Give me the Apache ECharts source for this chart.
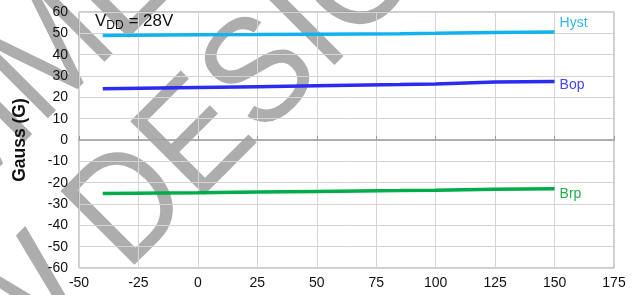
<!DOCTYPE html>
<html>
<head>
    <meta charset="utf-8">
    <title>Gauss vs temperature</title>
    <script src="https://cdn.jsdelivr.net/npm/echarts@6/dist/echarts.min.js"></script>
    <style type="text/css">
        html, body { margin: 0; padding: 0; background: #fff; }
        #main { width: 639px; height: 295px; }
    </style>
</head>
<body>
    <div id="main"></div>
    <script type="text/javascript">
        // temperature points (°C)
        var temps = [-40, 0, 25, 50, 85, 100, 125, 150];
        var hyst = [49.0, 49.3, 49.4, 49.6, 49.8, 50.0, 50.4, 50.6];
        var bop  = [24.0, 24.6, 25.0, 25.4, 26.0, 26.3, 27.2, 27.4];
        var brp  = [-25.1, -24.7, -24.4, -24.1, -23.7, -23.5, -23.1, -22.9];
        var xTicks = [-50, 175, 25];   // min, max, step
        var yTicks = [-60, 60, 10];

        function pairs(ys) {
            var out = [];
            for (var i = 0; i < temps.length; i++) out.push([temps[i], ys[i]]);
            return out;
        }

        function lineSeries(name, ys, color, labelColor, dy) {
            return {
                name: name,
                type: 'line',
                data: pairs(ys),
                symbol: 'none',
                z: 5,
                lineStyle: { color: color, width: 3.5 },
                endLabel: {
                    show: true,
                    formatter: name,
                    color: labelColor,
                    fontSize: 14,
                    fontFamily: 'Liberation Sans',
                    distance: 5,
                    offset: [0, dy]
                }
            };
        }

        var chart = echarts.init(document.getElementById('main'));
        var wmFont = '152px "Liberation Sans"';
        var option = {
            animation: false,
            backgroundColor: '#fff',
            textStyle: { fontFamily: 'Liberation Sans' },
            grid: {
                left: 79, right: 25, top: 12, bottom: 27,
                show: true, borderColor: '#9a9a9a', borderWidth: 1
            },
            graphic: [
                {   // watermark
                    type: 'text', x: 40, y: 67, rotation: Math.PI / 4, scaleX: 0.9, z: -10,
                    style: {
                        text: 'NOT RECOMMENDED FOR', font: wmFont,
                        fill: '#adadad', align: 'center', verticalAlign: 'middle'
                    }
                },
                {
                    type: 'text', x: 156, y: 184, rotation: Math.PI / 4, scaleX: 0.9, z: -10,
                    style: {
                        text: 'NEW DESIGN', font: wmFont,
                        fill: '#adadad', align: 'center', verticalAlign: 'middle'
                    }
                }
            ],
            title: {
                left: 90, top: 6,
                text: '{v|V}{s|DD}{v| = 28V}',
                textStyle: {
                    rich: {
                        v: { fontSize: 17, color: '#111', fontWeight: 'normal', fontFamily: 'Liberation Sans' },
                        s: { fontSize: 12, color: '#111', fontWeight: 'normal', fontFamily: 'Liberation Sans', padding: [9, 0, 0, 0] }
                    }
                }
            },
            xAxis: [
                {
                    type: 'value', min: xTicks[0], max: xTicks[1], interval: xTicks[2],
                    axisLine: { show: false, onZero: false },
                    axisTick: { show: false },
                    axisLabel: { color: '#111', fontSize: 14, margin: 8 },
                    splitLine: { lineStyle: { color: '#d4d4d4', width: 1 } }
                },
                {
                    type: 'value', min: xTicks[0], max: xTicks[1], interval: xTicks[2],
                    position: 'bottom',
                    axisLine: { show: true, onZero: true, lineStyle: { color: '#9a9a9a', width: 1.5 } },
                    axisTick: { show: true, inside: true, length: 4, lineStyle: { color: '#9a9a9a' } },
                    axisLabel: { show: false },
                    splitLine: { show: false }
                }
            ],
            yAxis: {
                type: 'value', min: yTicks[0], max: yTicks[1], interval: yTicks[2],
                name: 'Gauss (G)',
                nameLocation: 'middle',
                nameGap: 50,
                nameTextStyle: { fontSize: 17.5, fontWeight: 'bold', color: '#111' },
                axisLine: { show: false },
                axisTick: { show: false },
                axisLabel: { color: '#111', fontSize: 14, margin: 11 },
                splitLine: { lineStyle: { color: '#d4d4d4', width: 1 } }
            },
            series: [
                lineSeries('Hyst', hyst, '#12b2ee', '#2fb6ee', -9),
                lineSeries('Bop', bop, '#2b2bf2', '#4646ee', 4),
                lineSeries('Brp', brp, '#00ad4a', '#22b04a', 5)
            ]
        };
        chart.setOption(option);
    </script>
</body>
</html>
